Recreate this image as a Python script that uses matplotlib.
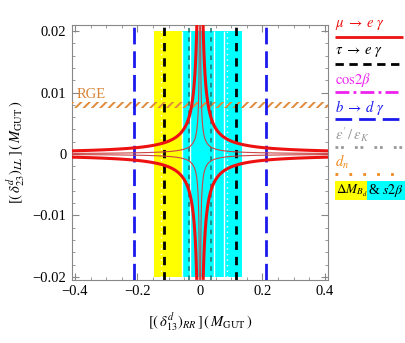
import numpy as np
import matplotlib
matplotlib.use("Agg")
import matplotlib.pyplot as plt
from matplotlib import ticker

plt.rcParams['font.family'] = ['Liberation Serif', 'DejaVu Serif']
plt.rcParams['mathtext.fontset'] = 'stix'
plt.rcParams['hatch.linewidth'] = 1.4

# constraints
mu_e_gamma_levels = [4e-5, 2.1e-4]      # |x*y| contour values (thin, thick)
tau_e_gamma = 0.115                      # black dashed, +/-
tau_e_gamma_inner = 0.034                # teal dashed, +/-
b_d_gamma = 0.21                         # blue long dash, +/-
dmbd_band = (-0.147, -0.058)             # yellow
s2b_band = (-0.058, 0.135)               # cyan
s2b_edges = [-0.058, -0.032, 0.045, 0.077]
white_marks = [-0.124, 0.085]
band_y = (-0.02, 0.02)
rge_band = (0.0075, 0.0084)

xticks = [-0.4, -0.2, 0, 0.2, 0.4]
xticklabels = ['\u22120.4', '\u22120.2', '0', '0.2', '0.4']
yticks = [-0.02, -0.01, 0, 0.01, 0.02]
yticklabels = ['\u22120.02', '\u22120.01', '0', '0.01', '0.02']

legend_labels = [r'$\mu\;\rightarrow\;e\;\gamma$', r'$\tau\;\rightarrow\;e\;\gamma$',
                 r'$\mathrm{cos}2\beta$', r'$b\;\rightarrow\;d\;\gamma$',
                 r"$\epsilon'\,/\,\epsilon_K$", r'$d_n$']
legend_colors = ['#ee1111', 'black', '#ee22ee', '#1a1aee', '#999999', '#f08a20']
legend_styles = ['-', (0, (3, 2)), (0, (5, 1.5, 1, 1.5)), (0, (6, 2.5)),
                 (0, (1, 1, 1, 4)), (0, (1, 4))]
legend_ends = [403, 403, 398, 403, 403, 398]

fig = plt.figure(figsize=(4.06, 3.43), dpi=100)
ax = fig.add_axes([0.177, 0.184, 0.631, 0.743])
xlim = (-0.41, 0.41)
ylim = (-0.0205, 0.021)

# bands
ax.fill_betweenx(band_y, *dmbd_band, color='#ffff00', lw=0, zorder=1)
ax.fill_betweenx(band_y, *s2b_band, color='#00ffff', lw=0, zorder=1)
ax.vlines(s2b_edges, *band_y, colors='white', lw=1.0, zorder=2)
ax.vlines(white_marks, *band_y, colors='white', lw=1.0, linestyles=(0, (1, 3)), zorder=2)

# RGE hatched strip
ax.axhspan(*rge_band, facecolor='none', edgecolor='#e08a3c', hatch='////', lw=0, zorder=3)
ax.text(-0.395, 0.0092, 'RGE', color='#d8843a', fontsize=10.5, zorder=6)

# vertical bounds
for s in (-1, 1):
    ax.axvline(s * tau_e_gamma_inner, color='#1f6f6f', lw=1.1, ls=(0, (3, 3)), zorder=4)
    ax.axvline(s * tau_e_gamma, color='black', lw=2.0, ls=(0, (3, 2.5)), zorder=4)
    ax.axvline(s * b_d_gamma, color='#1a1aee', lw=2.0, ls=(0, (6, 2.5)), zorder=4)

# mu -> e gamma contours
gx = np.linspace(*xlim, 1601)
gy = np.linspace(*ylim, 1601)
X, Y = np.meshgrid(gx, gy)
ax.contour(X, Y, np.abs(X * Y), levels=[mu_e_gamma_levels[0]], colors='#cc4444',
           linewidths=0.8, zorder=5)
ax.contour(X, Y, np.abs(X * Y), levels=[mu_e_gamma_levels[1]], colors='#ee1111',
           linewidths=2.2, zorder=5)

ax.set_xlim(*xlim)
ax.set_ylim(*ylim)
ax.set_xticks(xticks)
ax.set_xticklabels(xticklabels)
ax.set_yticks(yticks)
ax.set_yticklabels(yticklabels)
ax.xaxis.set_minor_locator(ticker.MultipleLocator(0.05))
ax.yaxis.set_minor_locator(ticker.MultipleLocator(0.002))
ax.tick_params(which='both', direction='in', top=True, right=True, color='#888888',
               labelsize=10.5, pad=4)
ax.tick_params(which='major', length=5)
ax.tick_params(which='minor', length=2.5)
for sp in ax.spines.values():
    sp.set_color('#888888')
    sp.set_linewidth(0.8)

ax.set_xlabel(r'$[(\,\delta^d_{13})_{RR}\,]\,(\,M_{\mathrm{GUT}}\,)$', fontsize=10.5, labelpad=9)
ax.set_ylabel(r'$[(\,\delta^d_{23})_{LL}\,]\,(\,M_{\mathrm{GUT}}\,)$', fontsize=10.5, labelpad=4)

# legend panel (text above sample line), laid out in figure pixels
lax = fig.add_axes([0, 0, 1, 1], zorder=-1)
lax.set_xlim(0, 406)
lax.set_ylim(343, 0)
lax.axis('off')
for i, (lab, col, st, xe) in enumerate(zip(legend_labels, legend_colors, legend_styles, legend_ends)):
    ty = 25 + 27.4 * i
    lax.text(335, ty, lab, color=col, fontsize=10.5, va='center', ha='left')
    lax.plot([335, xe], [ty + 12] * 2, color=col, lw=2.0, ls=st, solid_capstyle='butt')

lax.text(336, 190.5, r'$\Delta M_{B_d}$', fontsize=9.5, va='center', ha='left',
         bbox=dict(facecolor='#ffff00', edgecolor='none', pad=0.8))
lax.text(368, 190.5, r'& $s2\beta$', fontsize=10, va='center', ha='left',
         bbox=dict(facecolor='#00ffff', edgecolor='none', pad=0.8))

fig.savefig('out.png', dpi=100)
